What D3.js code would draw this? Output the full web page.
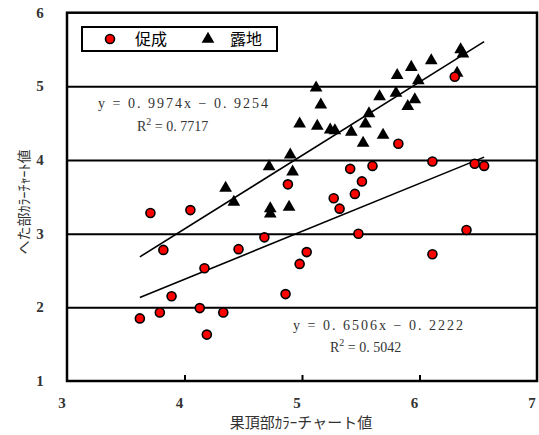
<!DOCTYPE html>
<html>
<head>
<meta charset="utf-8">
<script src="https://cdn.jsdelivr.net/npm/d3@7"></script>
<style>
    body { margin: 0; background: #fff; }
    svg { display: block; }
    .num { font-family: "Liberation Serif", "DejaVu Serif", serif; }
    .jp { font-family: "Noto Sans CJK JP", sans-serif; }
</style>
</head>
<body>
<svg id="chart" width="539" height="435"></svg>
<script>
"use strict";

// 促成 (forcing culture) : x = 果頂部, y = へた部
var sokuseiX = [3.62, 3.71, 3.79, 3.82, 3.89, 4.05, 4.13, 4.17, 4.19, 4.33,
    4.46, 4.68, 4.86, 4.88, 4.98, 5.04, 5.27, 5.32, 5.41, 5.45,
    5.48, 5.51, 5.60, 5.82, 6.11, 6.11, 6.30, 6.40, 6.47, 6.55];
var sokuseiY = [1.85, 3.28, 1.93, 2.78, 2.15, 3.32, 1.99, 2.53, 1.63, 1.93,
    2.79, 2.95, 2.18, 3.67, 2.59, 2.75, 3.48, 3.34, 3.88, 3.54,
    3.00, 3.71, 3.92, 4.22, 3.98, 2.72, 5.13, 3.05, 3.95, 3.92];

// 露地 (open field)
var rojiX = [4.35, 4.42, 4.72, 4.73, 4.73, 4.89, 4.90, 4.92, 4.98, 5.12,
    5.16, 5.13, 5.24, 5.28, 5.42, 5.52, 5.54, 5.57, 5.69, 5.66,
    5.80, 5.81, 5.90, 5.96, 5.93, 5.99, 6.10, 6.32, 6.35, 6.37];
var rojiY = [3.62, 3.43, 3.91, 3.34, 3.27, 3.36, 4.07, 3.84, 4.49, 4.98,
    4.75, 4.46, 4.41, 4.40, 4.38, 4.23, 4.49, 4.63, 4.34, 4.86,
    4.91, 5.15, 4.73, 4.82, 5.26, 5.08, 5.35, 5.18, 5.50, 5.44];

var xTicks = [3, 4, 5, 6, 7];
var yTicks = [1, 2, 3, 4, 5, 6];

// regression lines as printed on the chart
var fits = [
    { slope: 0.9974, icept: -0.9254, eq: "y = 0. 9974x − 0. 9254", r2: "0. 7717" },
    { slope: 0.6506, icept: -0.2222, eq: "y = 0. 6506x − 0. 2222", r2: "0. 5042" }
];
var fitRange = [3.62, 6.55];

var svg = d3.select("#chart");

var x = d3.scaleLinear().domain([3, 7]).range([67, 537]);
var y = d3.scaleLinear().domain([1, 6]).range([381, 12.7]);

// horizontal grid lines
svg.append("g")
    .attr("transform", "translate(" + x(3) + ",0)")
    .call(d3.axisLeft(y).tickValues(yTicks.slice(1, -1)).tickSize(-(x(7) - x(3))).tickFormat(""))
    .call(function (g) {
        g.select(".domain").remove();
        g.selectAll("line").attr("stroke", "#000").attr("stroke-width", 2);
    })
;

// bottom axis, ticks pointing in
svg.append("g")
    .attr("transform", "translate(0," + y(1) + ")")
    .call(d3.axisBottom(x).tickValues(xTicks.slice(1, -1)).tickSize(-6).tickFormat(""))
    .call(function (g) {
        g.select(".domain").remove();
        g.selectAll("line").attr("stroke", "#000").attr("stroke-width", 2);
    })
;

// frame
svg.append("rect")
    .attr("x", x(3))
    .attr("y", y(6))
    .attr("width", x(7) - x(3))
    .attr("height", y(1) - y(6))
    .attr("fill", "none")
    .attr("stroke", "#000")
    .attr("stroke-width", 2.5)
;

svg.append("g").selectAll("text")
    .data(xTicks)
    .enter().append("text")
    .attr("class", "num")
    .attr("x", function (d) { return x(d) - 5; })
    .attr("y", 408)
    .attr("text-anchor", "middle")
    .attr("font-size", 15)
    .attr("font-weight", "bold")
    .attr("fill", "#333")
    .text(function (d) { return d; })
;

svg.append("g").selectAll("text")
    .data(yTicks)
    .enter().append("text")
    .attr("class", "num")
    .attr("x", 40)
    .attr("y", function (d) { return y(d) + 5; })
    .attr("text-anchor", "middle")
    .attr("font-size", 15)
    .attr("font-weight", "bold")
    .attr("fill", "#333")
    .text(function (d) { return d; })
;

// trend lines
var line = d3.line()
    .x(function (d) { return x(d[0]); })
    .y(function (d) { return y(d[1]); });

svg.append("g").selectAll("path")
    .data(fits)
    .enter().append("path")
    .attr("d", function (f) {
        return line(fitRange.map(function (v) { return [v, f.slope * v + f.icept]; }));
    })
    .attr("fill", "none")
    .attr("stroke", "#000")
    .attr("stroke-width", 1.6)
;

// points
var tri = d3.symbol().type(d3.symbolTriangle).size(70);

svg.append("g").selectAll("path")
    .data(d3.zip(rojiX, rojiY))
    .enter().append("path")
    .attr("d", tri)
    .attr("transform", function (d) { return "translate(" + x(d[0]) + "," + y(d[1]) + ")"; })
    .attr("fill", "#000")
;

svg.append("g").selectAll("circle")
    .data(d3.zip(sokuseiX, sokuseiY))
    .enter().append("circle")
    .attr("cx", function (d) { return x(d[0]); })
    .attr("cy", function (d) { return y(d[1]); })
    .attr("r", 4.5)
    .attr("fill", "#f00")
    .attr("stroke", "#000")
    .attr("stroke-width", 1.6)
;

// equations
var eqPos = [[98, 108, 137, 131], [293, 330, 330, 352]];
fits.forEach(function (f, i) {
    var p = eqPos[i];
    svg.append("text")
        .attr("class", "num")
        .attr("x", p[0])
        .attr("y", p[1])
        .attr("font-size", 14)
        .attr("fill", "#333")
        .attr("textLength", 170)
        .text(f.eq)
    ;
    var t = svg.append("text")
        .attr("class", "num")
        .attr("x", p[2])
        .attr("y", p[3])
        .attr("font-size", 14)
        .attr("fill", "#333")
    ;
    t.append("tspan").text("R");
    t.append("tspan").attr("dy", -6).attr("font-size", 10).text("2");
    t.append("tspan").attr("dy", 6).text(" =  " + f.r2);
});

// legend
var legend = svg.append("g");
legend.append("rect")
    .attr("x", 82)
    .attr("y", 27)
    .attr("width", 195)
    .attr("height", 24)
    .attr("fill", "#fff")
    .attr("stroke", "#000")
    .attr("stroke-width", 2)
;
legend.append("circle")
    .attr("cx", 110)
    .attr("cy", 39)
    .attr("r", 4.5)
    .attr("fill", "#f00")
    .attr("stroke", "#000")
    .attr("stroke-width", 1.6)
;
legend.append("text")
    .attr("class", "jp")
    .attr("x", 135)
    .attr("y", 45)
    .attr("font-size", 16)
    .text("促成")
;
legend.append("path")
    .attr("d", tri)
    .attr("transform", "translate(208,39)")
    .attr("fill", "#000")
;
legend.append("text")
    .attr("class", "jp")
    .attr("x", 230)
    .attr("y", 45)
    .attr("font-size", 16)
    .text("露地")
;

// axis titles
svg.append("text")
    .attr("class", "jp")
    .attr("x", 301)
    .attr("y", 428)
    .attr("text-anchor", "middle")
    .attr("font-size", 15)
    .attr("fill", "#333")
    .text("果頂部ｶﾗｰチャート値")
;
svg.append("text")
    .attr("class", "jp")
    .attr("transform", "translate(29,202) rotate(-90)")
    .attr("text-anchor", "middle")
    .attr("font-size", 14)
    .attr("fill", "#333")
    .text("へた部ｶﾗｰﾁｬｰﾄ値")
;
</script>
</body>
</html>
